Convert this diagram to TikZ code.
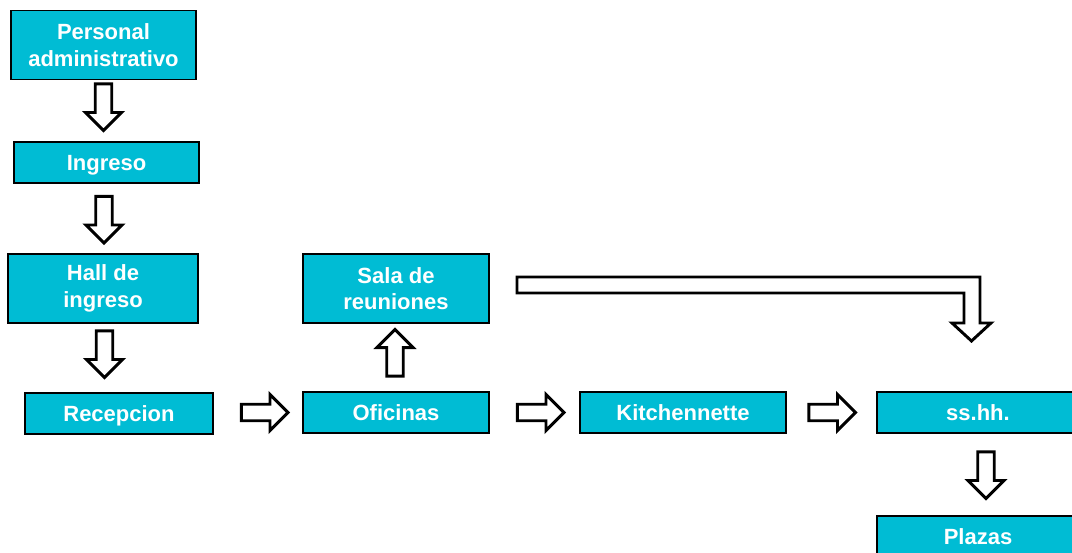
\documentclass[tikz,border=0pt]{standalone}
\usepackage{fontspec}
\setmainfont{Liberation Sans}
\usepackage{xcolor}
\usepackage{tikz}
\usetikzlibrary{shapes.arrows}
\definecolor{boxcyan}{HTML}{00BCD4}

\begin{document}
\begin{tikzpicture}[
    x=0.75pt, y=-0.75pt,
    block/.style={rectangle, draw, line width=1.2pt, fill=boxcyan, minimum height=30.75pt, align=center, inner sep=0pt, text=white, font=\fontsize{16.5}{20}\selectfont\bfseries},
    line/.style={text height=14.9pt, text depth=3.5pt},
    tall/.style={minimum height=51.5pt},
    hollow/.style={single arrow, draw, fill=white, line width=2.2pt, inner xsep=0pt, inner ysep=5.1pt, minimum height=35pt, single arrow head extend=7.3pt},
]
\path[use as bounding box, clip] (0,0) rectangle (1072,553);

% Column 1: entrance
\node[block, tall, minimum width=138.75pt] (personal) at (103.5,45) {Personal\\administrativo};
\node[block, line, minimum width=138.75pt] (ingreso) at (106.5,162.5) {Ingreso};
\node[block, tall, minimum width=142.5pt] (hall) at (103,288.5) {Hall de\\ingreso};
\node[block, line, minimum width=141pt] (recepcion) at (119,413.5) {Recepcion};

% Row: offices
\node[block, tall, minimum width=139.5pt] (sala) at (396,288.5) {Sala de\\reuniones};
\node[block, line, minimum width=139.5pt] (oficinas) at (396,412.5) {Oficinas};
\node[block, line, minimum width=154.5pt] (kitchen) at (683,412.5) {Kitchennette};
\node[block, line, minimum width=151.5pt] (sshh) at (978,412.5) {ss.hh.};
\node[block, line, minimum width=151.5pt] (plazas) at (978,536.5) {Plazas};

% Hollow arrows
\node[hollow, rotate=-90] (d1) at (103.5,103) {};
\node[hollow, rotate=-90] (d2) at (104,215.5) {};
\node[hollow, rotate=-90] (d3) at (104.5,350) {};
\node[hollow, rotate=90] (u1) at (395,357) {};
\node[hollow] (r1) at (260.5,412.5) {};
\node[hollow] (r2) at (536.5,412.5) {};
\node[hollow] (r3) at (828,412.5) {};
\node[hollow, rotate=-90] (d4) at (986,471) {};

% Bent arrow: sala -> ss.hh.
\draw[line width=2.2pt, fill=white] (517,277) -- (980,277) -- (980,323) -- (991,323)
    -- (971.5,341) -- (952,323) -- (964,323) -- (964,293) -- (517,293) -- cycle;

\end{tikzpicture}
\end{document}
